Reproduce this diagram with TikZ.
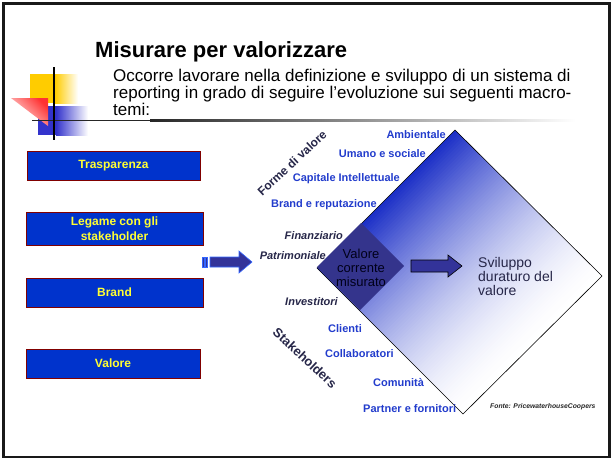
\documentclass[tikz,border=0pt]{standalone}
\usepackage{fontspec}
\setmainfont{Liberation Sans}
\usetikzlibrary{calc}
\definecolor{boxblue}{RGB}{0,51,204}
\definecolor{boxborder}{RGB}{128,0,0}
\definecolor{boxtext}{RGB}{255,255,51}
\definecolor{lblue}{RGB}{34,60,204}
\definecolor{navy}{RGB}{38,38,72}
\definecolor{arrowfill}{RGB}{51,51,153}
\definecolor{arrowedge}{RGB}{51,102,255}
\definecolor{dblue}{RGB}{26,46,198}
\definecolor{smalld}{RGB}{52,52,140}
\definecolor{decoyellow}{RGB}{255,204,0}
\definecolor{decoblue}{RGB}{51,51,204}
\definecolor{decored}{RGB}{255,50,50}
\newcommand{\fsz}[2]{\fontsize{#1}{#2}\selectfont}
\tikzset{
  topic/.style={draw=boxborder, line width=0.8, fill=boxblue, text=boxtext,
    font=\fsz{12}{15}\bfseries, inner sep=0, align=center},
  vlab/.style={text=lblue, font=\fsz{11}{13}\bfseries, inner sep=0},
  ilab/.style={text=navy, font=\fsz{11}{13}\bfseries\itshape, inner sep=0},
  blockarrow/.style={fill=arrowfill, line width=0.6},
}
\begin{document}
\begin{tikzpicture}[x=1pt,y=-1pt]
\useasboundingbox (0,0) rectangle (612,461);
% frame
\draw[line width=2.5, black!90] (3.5,3.5) rectangle (609.5,457);
% decoration
\fill[decoyellow] (30,74) rectangle (55,103);
\shade[left color=decoyellow, right color=white] (55,74) rectangle (78,103);
\fill[decoblue] (38,106) rectangle (56,135);
\shade[left color=decoblue, right color=white] (56,106) rectangle (88,135);
\shade[top color=decored, bottom color=decored!10, shading angle=-45] (11,98) -- (48,98) -- (48,126) -- cycle;
\fill[black!85] (32,119.8) rectangle (150,121.2);
\shade[left color=black!85, right color=white] (150,119.8) rectangle (575,121.2);
\draw[line width=2, black] (54,67) -- (54,140);
% title and text
\node[anchor=base west, inner sep=0, font=\fsz{22}{26}\bfseries] (title) at (95,57) {Misurare per valorizzare};
\node[anchor=base west, inner sep=0, font=\fsz{17}{20}] (l1) at (113,81) {Occorre lavorare nella definizione e sviluppo di un sistema di};
\node[anchor=base west, inner sep=0, font=\fsz{17}{20}] (l2) at (113,98) {reporting in grado di seguire l’evoluzione sui seguenti macro-};
\node[anchor=base west, inner sep=0, font=\fsz{17}{20}] (l3) at (113,115) {temi:};
% left boxes
\node[topic, minimum width=173, minimum height=29] (t1) at (113.5,165.5) {Trasparenza};
\node[topic, minimum width=177, minimum height=33] (t2) at (114.5,228.5) {Legame con gli\\stakeholder};
\node[topic, minimum width=177, minimum height=29] (t3) at (114.5,292.5) {Brand};
\node[topic, minimum width=174, minimum height=29] (t4) at (113,363.5) {Valore};
% left block arrow
\draw[blockarrow, draw=arrowedge] (210,257) -- (239,257) -- (239,251) -- (252,262) -- (239,273) -- (239,267) -- (210,267) -- cycle;
\draw[blockarrow, draw=arrowedge] (202,257) rectangle (204,267);
\draw[blockarrow, draw=arrowedge] (205.5,257) rectangle (207.5,267);
% big diamond with diagonal gradient built from strips
\coordinate (dL) at (317,268);
\coordinate (dT) at (455,130);
\coordinate (dR) at (602,276);
\coordinate (dB) at (463,414);
\foreach \i in {0,...,79} {
  \pgfmathsetmacro\ta{\i/80}
  \pgfmathsetmacro\tb{min(1,(\i+1.5)/80)}
  \pgfmathsetmacro\pc{100*(1-(\i+0.5)/80)^1.6}
  \fill[dblue!\pc!white] ($(dL)!\ta!(dB)$) -- ($(dT)!\ta!(dR)$) -- ($(dT)!\tb!(dR)$) -- ($(dL)!\tb!(dB)$) -- cycle;
}
\draw[line width=0.6, black] (dL) -- (dT) -- (dR) -- (dB) -- cycle;
% small diamond
\fill[smalld] (317,267) -- (361,223) -- (404,266) -- (360,310) -- cycle;
\node[inner sep=0, align=center, font=\fsz{13}{14}, text=black!90!blue] (cur) at (361,268) {Valore\\corrente\\misurato};
% inner arrow
\draw[blockarrow, draw=black] (411,260) -- (448,260) -- (448,255) -- (462,266) -- (448,277) -- (448,272) -- (411,272) -- cycle;
\node[anchor=west, inner sep=0, align=left, font=\fsz{14}{14}, text=navy] (svil) at (478,276) {Sviluppo\\duraturo del\\valore};
% labels
\node[vlab, anchor=base east] (amb) at (446,138) {Ambientale};
\node[vlab, anchor=base east] (uma) at (426,157) {Umano e sociale};
\node[vlab, anchor=base east] (cap) at (400,181) {Capitale Intellettuale};
\node[vlab, anchor=base east] (bra) at (377,207) {Brand e reputazione};
\node[ilab, anchor=base east] (fin) at (343,239) {Finanziario};
\node[ilab, anchor=base east] (pat) at (326,259) {Patrimoniale};
\node[ilab, anchor=base east] (inv) at (338,305) {Investitori};
\node[vlab, anchor=base west] (cli) at (328,332) {Clienti};
\node[vlab, anchor=base west] (col) at (325,357) {Collaboratori};
\node[vlab, anchor=base west] (com) at (373,386) {Comunità};
\node[vlab, anchor=base west] (par) at (363,412) {Partner e fornitori};
\node[inner sep=0, rotate=43, text=navy, font=\fsz{12}{14}\bfseries] (forme) at (292,163) {Forme di valore};
\node[inner sep=0, rotate=-43, text=navy, font=\fsz{13}{15}\bfseries] (stake) at (305,358) {Stakeholders};
\node[anchor=base west, inner sep=0, font=\fsz{6.8}{8}\bfseries\itshape, text=black!85] (fonte) at (490,408.5) {Fonte: PricewaterhouseCoopers};
\end{tikzpicture}
\end{document}
